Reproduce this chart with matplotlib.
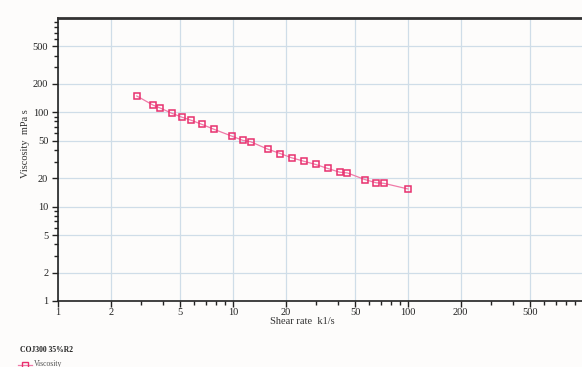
import matplotlib
matplotlib.use("Agg")
import matplotlib.pyplot as plt
from matplotlib.ticker import LogLocator, FixedLocator, FixedFormatter, NullFormatter
from matplotlib.lines import Line2D

# Flow curve: viscosity vs shear rate
shear_rate = [2.82, 3.50, 3.84, 4.48, 5.13, 5.73, 6.65, 7.82, 9.83, 11.4, 12.6,
              15.8, 18.6, 21.6, 25.4, 29.7, 34.8, 40.7, 45.0, 56.6, 65.9, 72.6, 100]
viscosity = [149, 119, 111, 97.6, 88.5, 82.8, 74.5, 65.9, 56.0, 50.4, 48.8,
             40.7, 36.6, 33.0, 30.3, 28.0, 25.4, 23.2, 22.8, 19.4, 17.9, 17.7, 15.4]

x_ticks = [1, 2, 5, 10, 20, 50, 100, 200, 500]
y_ticks = [1, 2, 5, 10, 20, 50, 100, 200, 500]

sample_name = "COJ300 35%R2"
series_name = "Viscosity"

plt.rcParams['font.family'] = ['Liberation Serif', 'DejaVu Serif']

W, H = 582, 367
fig = plt.figure(figsize=(W / 100, H / 100), dpi=100, facecolor="#fdfcfb")
ax = fig.add_axes([58 / W, (H - 301) / H, 525 / W, 283 / H])
ax.set_facecolor("#fdfcfb")

ax.set_xscale("log")
ax.set_yscale("log")
ax.set_xlim(1, 1000)
ax.set_ylim(1, 1000)

grid_c = "#cfdde8"
ax.xaxis.set_major_locator(FixedLocator(x_ticks))
ax.xaxis.set_major_formatter(FixedFormatter([str(v) for v in x_ticks]))
ax.yaxis.set_major_locator(FixedLocator(y_ticks))
ax.yaxis.set_major_formatter(FixedFormatter([str(v) for v in y_ticks]))
ax.xaxis.set_minor_locator(LogLocator(base=10, subs=(3, 4, 6, 7, 8, 9)))
ax.yaxis.set_minor_locator(LogLocator(base=10, subs=(3, 4, 6, 7, 8, 9)))
ax.xaxis.set_minor_formatter(NullFormatter())
ax.yaxis.set_minor_formatter(NullFormatter())
ax.grid(True, which="major", color=grid_c, linewidth=0.9)

ax.tick_params(which="both", direction="out", colors="#222222", labelsize=7.5,
               width=1.0)
ax.tick_params(which="major", length=4)
ax.tick_params(which="minor", length=3)
ax.tick_params(axis="x", which="major", pad=1)
ax.tick_params(axis="y", which="major", pad=3)

for side in ("left", "bottom"):
    ax.spines[side].set_linewidth(1.2)
    ax.spines[side].set_color("#222222")
ax.spines["top"].set_linewidth(2.0)
ax.spines["top"].set_color("#333333")
ax.spines["right"].set_visible(False)

ax.plot(shear_rate, viscosity, color="#f07aa8", linewidth=0.9,
        marker="s", markersize=4.2, markerfacecolor="none",
        markeredgecolor="#e8306e", markeredgewidth=1.1, clip_on=False)

fig.text(25 / W, 1 - 144 / H, "Viscosity  mPa s", rotation=90,
         ha="center", va="center", fontsize=7.5, color="#333333")
fig.text(302 / W, 1 - 321 / H, "Shear rate  k1/s",
         ha="center", va="center", fontsize=7.5, color="#333333")

fig.text(20 / W, 1 - 350 / H, sample_name, ha="left", va="center",
         fontsize=5.5, fontweight="bold", color="#222222")
fig.add_artist(Line2D([18 / W, 25 / W, 32 / W], [1 - 365 / H] * 3,
                      color="#f07aa8", linewidth=0.9, marker="s",
                      markersize=4.2, markevery=[1],
                      markerfacecolor="none", markeredgecolor="#e8306e",
                      transform=fig.transFigure))
fig.text(34 / W, 1 - 364 / H, series_name, ha="left", va="center",
         fontsize=5.5, color="#555555")

fig.savefig("out.png", dpi=100, facecolor=fig.get_facecolor())
